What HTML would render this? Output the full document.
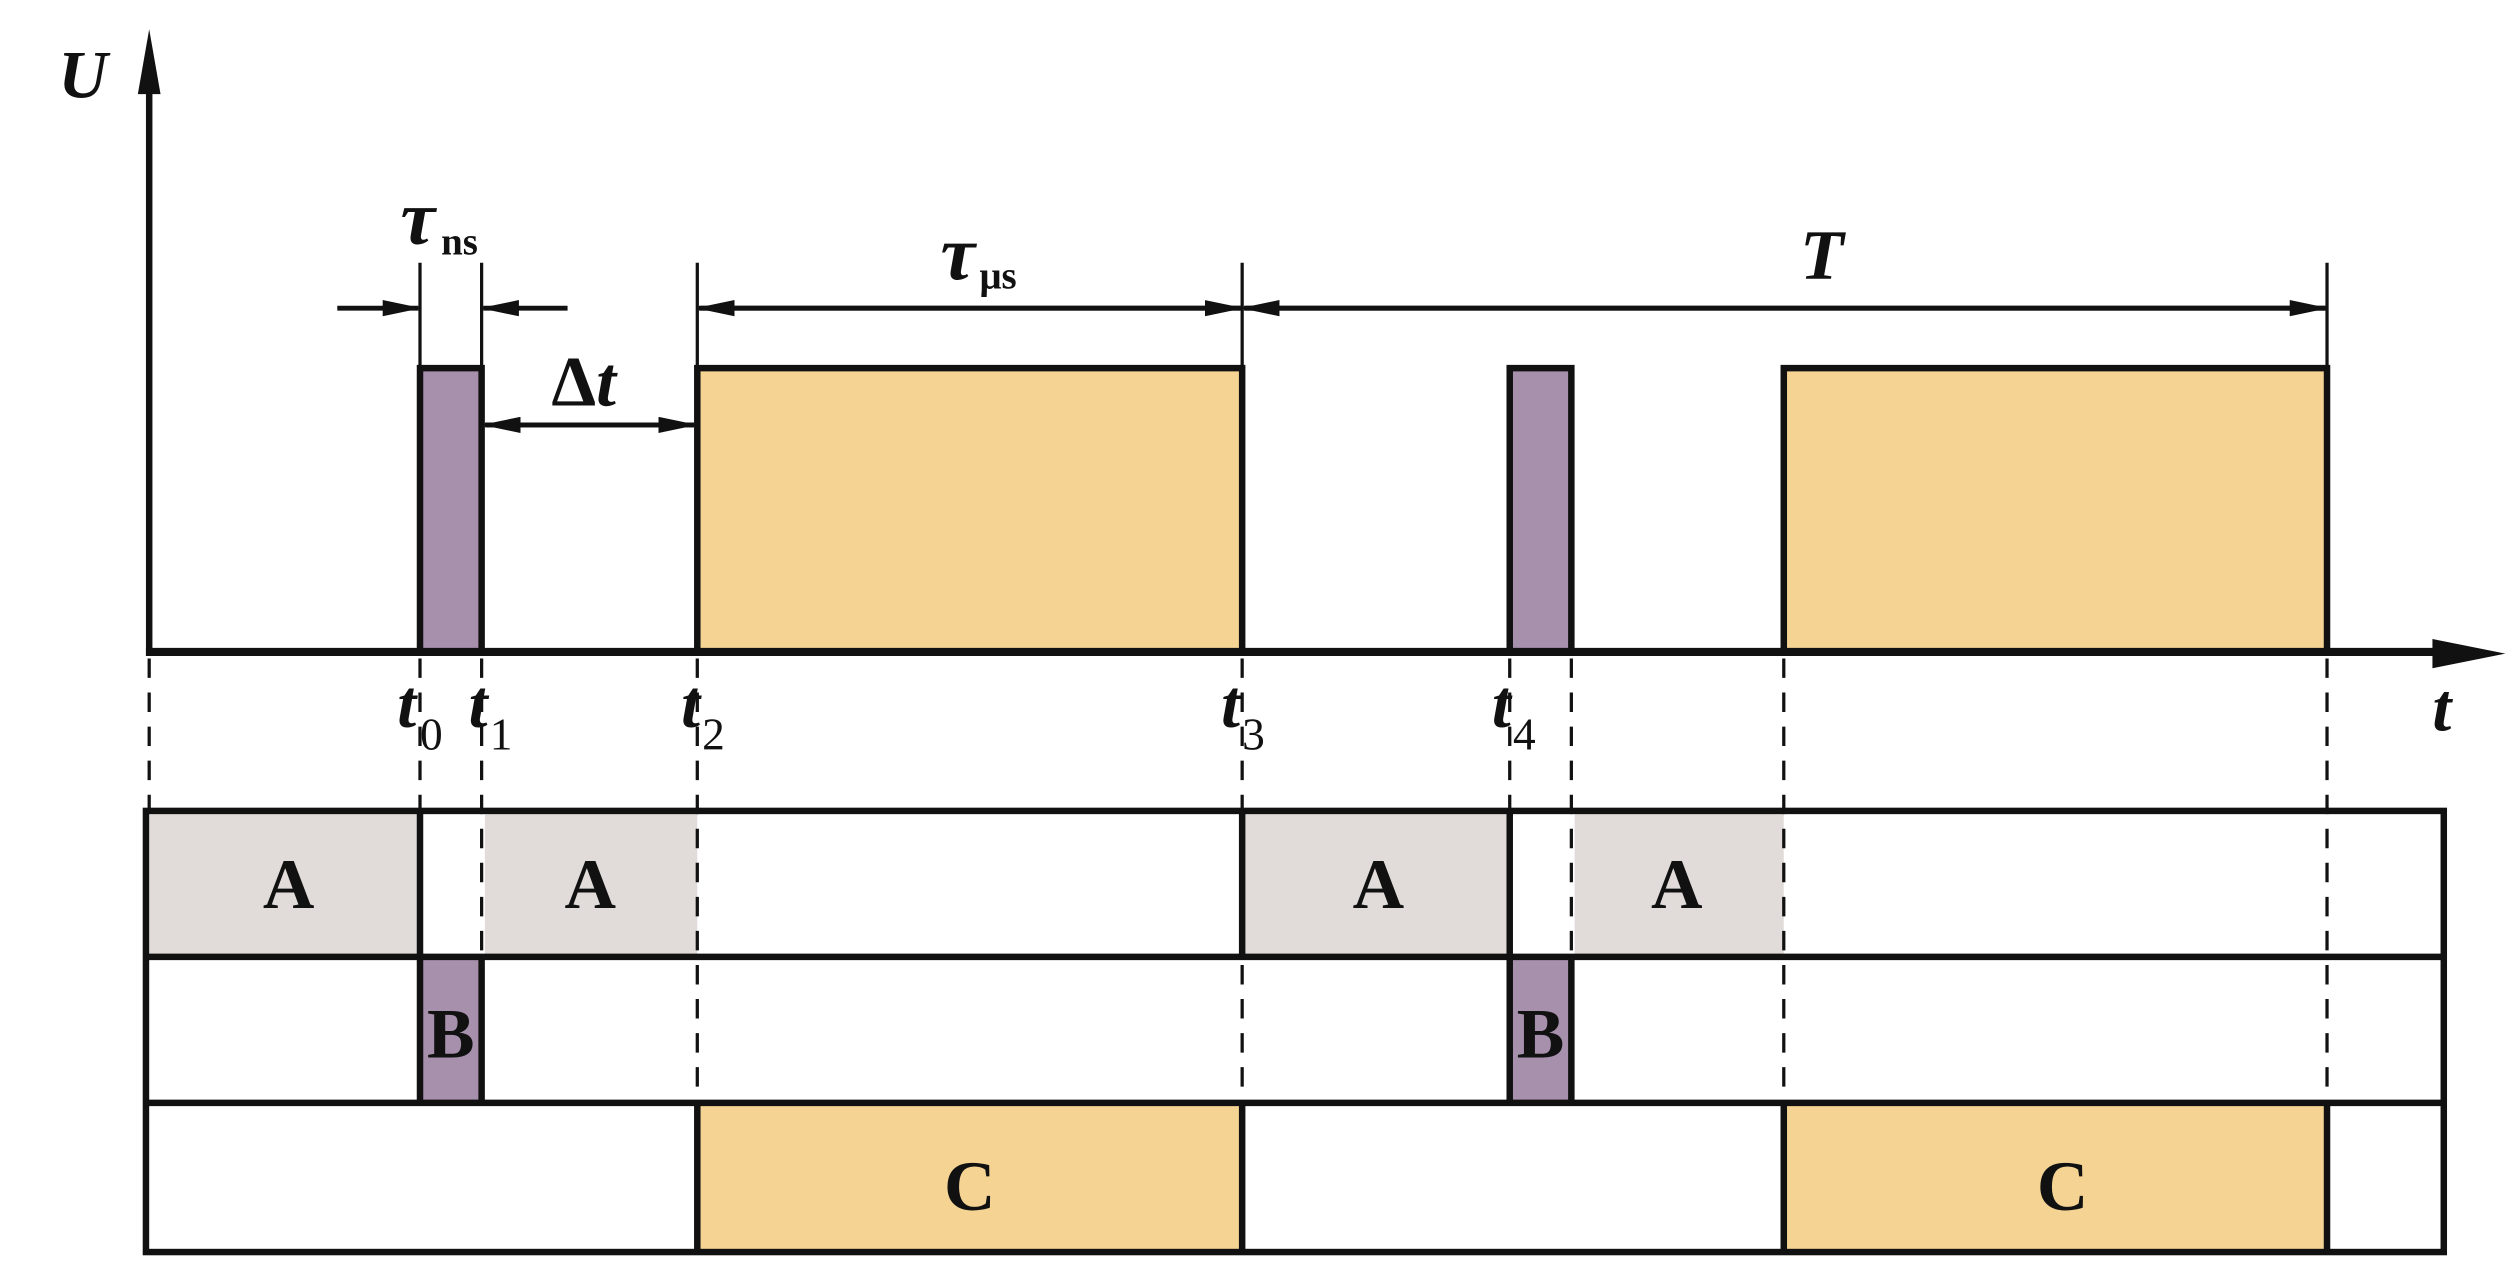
<!DOCTYPE html>
<html><head><meta charset="utf-8"><style>
html,body{margin:0;padding:0;background:#fff;}
svg{display:block;}
text{font-family:"Liberation Serif",serif;fill:#111;}
</style></head><body>
<svg width="2520" height="1278" viewBox="0 0 1554 788" preserveAspectRatio="none" xmlns="http://www.w3.org/2000/svg">
<defs>
<marker id="ah2" markerWidth="24" markerHeight="10" refX="22" refY="5" orient="auto" markerUnits="userSpaceOnUse"><path d="M0,0 L24,5 L0,10 Z" fill="#111"/></marker>
</defs>
<rect x="259" y="227" width="38" height="175" fill="#a690ab"/>
<rect x="430" y="227" width="336" height="175" fill="#f5d493"/>
<rect x="931" y="227" width="38" height="175" fill="#a690ab"/>
<rect x="1100" y="227" width="335" height="175" fill="#f5d493"/>
<g fill="none" stroke="#111" stroke-width="4">
<path d="M259,402 V227 H297 V402"/>
<path d="M430,402 V227 H766 V402"/>
<path d="M931,402 V227 H969 V402"/>
<path d="M1100,402 V227 H1435 V402"/>
</g>
<line x1="92" y1="404" x2="92" y2="40" stroke="#111" stroke-width="4"/>
<path d="M85,58 L92,18 L99,58 Z" fill="#111"/>
<line x1="90" y1="402" x2="1510" y2="402" stroke="#111" stroke-width="5"/>
<path d="M1500,394 L1545,403 L1500,412 Z" fill="#111"/>
<text x="36" y="60" font-size="42" font-style="italic" font-weight="bold">U</text>
<text x="1500" y="450" font-size="42" font-style="italic" font-weight="bold">t</text>
<g stroke="#111" stroke-width="2">
<line x1="259" y1="162" x2="259" y2="227"/><line x1="297" y1="162" x2="297" y2="227"/>
<line x1="430" y1="162" x2="430" y2="227"/><line x1="766" y1="162" x2="766" y2="227"/>
<line x1="1435" y1="162" x2="1435" y2="227"/>
</g>
<g stroke="#111" stroke-width="3" fill="none">
<line x1="208" y1="190" x2="258" y2="190" marker-end="url(#ah2)"/>
<line x1="350" y1="190" x2="298" y2="190" marker-end="url(#ah2)"/>
<line x1="300" y1="262" x2="428" y2="262" marker-end="url(#ah2)"/>
<line x1="428" y1="262" x2="299" y2="262" marker-end="url(#ah2)"/>
<line x1="432" y1="190" x2="765" y2="190" marker-end="url(#ah2)"/>
<line x1="765" y1="190" x2="431" y2="190" marker-end="url(#ah2)"/>
<line x1="768" y1="190" x2="1434" y2="190" marker-end="url(#ah2)"/>
<line x1="1434" y1="190" x2="767" y2="190" marker-end="url(#ah2)"/>
</g>
<text x="247" y="150" font-size="48" font-style="italic" font-weight="bold">τ</text>
<text x="272" y="157" font-size="24" font-weight="bold">ns</text>
<text x="580" y="172" font-size="48" font-style="italic" font-weight="bold">τ</text>
<text x="604" y="178" font-size="24" font-weight="bold">μs</text>
<text x="1110" y="172" font-size="44" font-style="italic" font-weight="bold">T</text>
<text x="340" y="250" font-size="44" font-weight="bold">Δ<tspan font-style="italic">t</tspan></text>
<g font-size="42" font-style="italic" font-weight="bold">
<text x="245" y="448">t</text><text x="289" y="448">t</text>
<text x="420" y="448">t</text><text x="753" y="448">t</text><text x="920" y="448">t</text>
</g>
<g font-size="28">
<text x="259" y="462">0</text><text x="302" y="462">1</text>
<text x="433" y="462">2</text><text x="766" y="462">3</text><text x="933" y="462">4</text>
</g>
<g fill="#e1dcd9">
<rect x="92" y="502" width="167" height="87"/>
<rect x="299" y="502" width="131" height="87"/>
<rect x="768" y="502" width="163" height="87"/>
<rect x="971" y="502" width="129" height="87"/>
</g>
<rect x="259" y="590" width="38" height="90" fill="#a690ab"/>
<rect x="931" y="590" width="38" height="90" fill="#a690ab"/>
<rect x="430" y="680" width="336" height="92" fill="#f5d493"/>
<rect x="1100" y="680" width="335" height="92" fill="#f5d493"/>
<g stroke="#111" stroke-width="2" stroke-dasharray="12,9">
<line x1="92" y1="406" x2="92" y2="500"/>
<line x1="259" y1="406" x2="259" y2="500"/>
<line x1="297" y1="406" x2="297" y2="590"/>
<line x1="430" y1="406" x2="430" y2="680"/>
<line x1="766" y1="406" x2="766" y2="680"/>
<line x1="931" y1="406" x2="931" y2="500"/>
<line x1="969" y1="406" x2="969" y2="590"/>
<line x1="1100" y1="406" x2="1100" y2="680"/>
<line x1="1435" y1="406" x2="1435" y2="680"/>
</g>
<g stroke="#111" stroke-width="4" fill="none">
<rect x="90" y="500" width="1417" height="272"/>
<line x1="90" y1="590" x2="1507" y2="590"/>
<line x1="90" y1="680" x2="1507" y2="680"/>
<line x1="259" y1="500" x2="259" y2="680"/>
<line x1="297" y1="590" x2="297" y2="680"/>
<line x1="931" y1="500" x2="931" y2="680"/>
<line x1="969" y1="590" x2="969" y2="680"/>
<line x1="766" y1="500" x2="766" y2="590"/>
<line x1="430" y1="680" x2="430" y2="772"/>
<line x1="766" y1="680" x2="766" y2="772"/>
<line x1="1100" y1="680" x2="1100" y2="772"/>
<line x1="1435" y1="680" x2="1435" y2="772"/>
</g>
<g font-size="44" font-weight="bold" text-anchor="middle">
<text x="178" y="560">A</text><text x="364" y="560">A</text>
<text x="850" y="560">A</text><text x="1034" y="560">A</text>
<text x="278" y="652">B</text><text x="950" y="652">B</text>
<text x="598" y="746">C</text><text x="1272" y="746">C</text>
</g>
</svg>
</body></html>
